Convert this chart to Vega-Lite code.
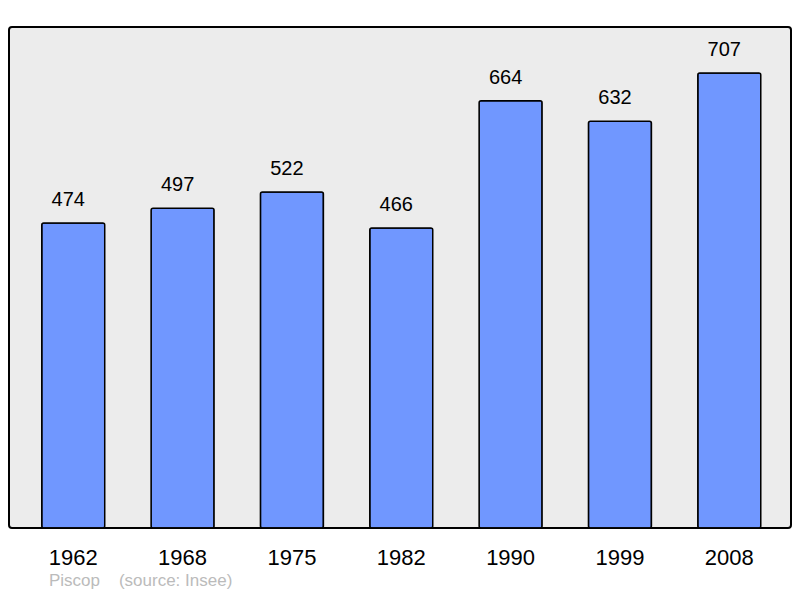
{
  "$schema": "https://vega.github.io/schema/vega-lite/v6.json",
  "width": 782,
  "height": 501,
  "autosize": {"type": "none"},
  "padding": {"left": 9, "top": 27, "right": 9, "bottom": 70},
  "background": "#ffffff",
  "config": {
    "view": {"fill": "#ececec", "stroke": "#000000", "strokeWidth": 2, "cornerRadius": 3},
    "font": "Liberation Sans"
  },
  "title": {
    "text": "Piscop\u00a0\u00a0\u00a0\u00a0(source: Insee)",
    "orient": "bottom",
    "anchor": "start",
    "font": "Liberation Sans",
    "fontSize": 17,
    "fontWeight": "normal",
    "color": "#bbbbbb",
    "offset": 5,
    "dx": 40
  },
  "data": {
    "values": [
      {"year": "1962", "pop": 474},
      {"year": "1968", "pop": 497},
      {"year": "1975", "pop": 522},
      {"year": "1982", "pop": 466},
      {"year": "1990", "pop": 664},
      {"year": "1999", "pop": 632},
      {"year": "2008", "pop": 707}
    ]
  },
  "encoding": {
    "x": {
      "field": "year",
      "type": "ordinal",
      "scale": {"paddingInner": 0.424, "paddingOuter": 0.288, "align": 0.52},
      "axis": {
        "title": null,
        "domain": false,
        "ticks": false,
        "labelAngle": 0,
        "labelFontSize": 22,
        "labelColor": "#000000",
        "labelPadding": 19,
        "grid": false
      }
    },
    "y": {
      "field": "pop",
      "type": "quantitative",
      "scale": {"domain": [0, 778.5], "nice": false, "zero": true},
      "axis": null
    }
  },
  "layer": [
    {
      "mark": {"type": "bar", "fill": "#7097ff", "stroke": "#000000", "strokeWidth": 1.5, "cornerRadius": 2}
    },
    {
      "mark": {"type": "text", "baseline": "alphabetic", "dy": -17, "dx": -5, "fontSize": 20, "color": "#000000"},
      "encoding": {"text": {"field": "pop", "type": "quantitative"}}
    }
  ]
}
